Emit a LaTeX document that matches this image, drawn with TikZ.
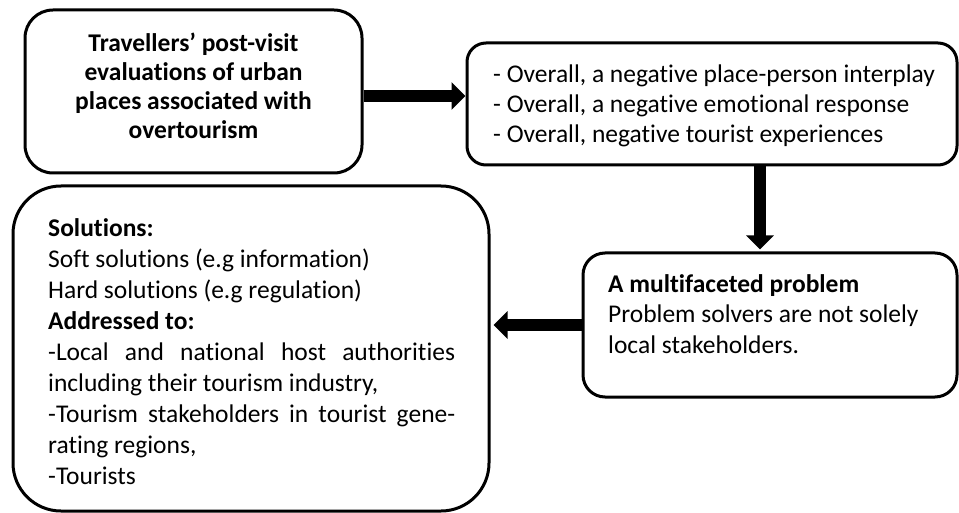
\documentclass[tikz,border=0pt]{standalone}
\usepackage{fontspec}
\setmainfont{Carlito}[Ligatures=NoCommon]
\usetikzlibrary{arrows.meta}
\tikzset{
  box/.style={draw=black, line width=3pt, rectangle, inner sep=0pt},
  txt/.style={inner sep=0pt, anchor=base west},
  bigarrow/.style={line width=12.5pt, -{Triangle[length=14pt,width=27pt]}},
}
\begin{document}
\begin{tikzpicture}[x=1pt,y=-1pt]
\useasboundingbox[fill=white] (0,0) rectangle (959,513);
% boxes
\node[box, minimum width=337pt, minimum height=163pt, rounded corners=28pt] (A) at (193.5,91.5) {};
\node[box, minimum width=490pt, minimum height=122pt, rounded corners=19pt] (B) at (712,104) {};
\node[box, minimum width=476pt, minimum height=325pt, rounded corners=48pt] (C) at (251,348.5) {};
\node[box, minimum width=374pt, minimum height=144pt, rounded corners=22pt] (D) at (770,325) {};
% texts
\node[inner sep=0pt, anchor=base] (At) at (193.5,52) {\parbox[t]{330pt}{\centering\bfseries\fontsize{25.5pt}{29pt}\selectfont
Travellers’ post-visit\\ evaluations of urban\\ places associated with\\ overtourism}};
\node[txt] (Bt) at (493,83) {\parbox[t]{460pt}{\fontsize{25.5pt}{30pt}\selectfont
- Overall, a negative place-person interplay\\
- Overall, a negative emotional response\\
- Overall, negative tourist experiences}};
\node[txt] (Ct) at (48,237) {\parbox[t]{407pt}{\fontsize{25.5pt}{31pt}\selectfont
\textbf{Solutions:}\\
Soft solutions (e.g information)\\
Hard solutions (e.g regulation)\\
\textbf{Addressed to:}\\
\makebox[\linewidth][s]{-Local and national host authorities}\\
including their tourism industry,\\
\makebox[\linewidth][s]{-Tourism stakeholders in tourist gene-}\\
rating regions,\\
-Tourists}};
\node[txt] (Dt) at (608,292) {\parbox[t]{340pt}{\fontsize{25.5pt}{31pt}\selectfont
\textbf{A multifaceted problem}\\
Problem solvers are not solely\\
local stakeholders.}};
% arrows
\draw[bigarrow] ([yshift=-4.5pt]A.east) -- ([yshift=-4.5pt]A.east -| B.west);
\draw[bigarrow, shorten >=2pt] ([xshift=-10pt]B.south -| D.north) -- ([xshift=-10pt]D.north);
\draw[bigarrow, shorten >=3pt] (D.west) -- (D.west -| C.east);
\end{tikzpicture}
\end{document}
